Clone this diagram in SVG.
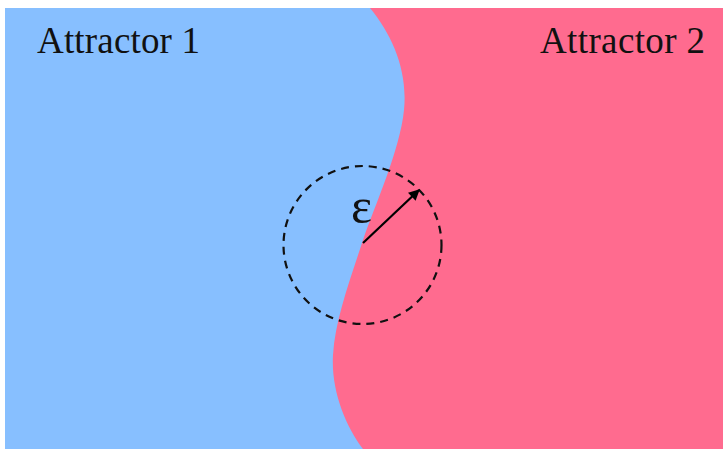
<svg xmlns="http://www.w3.org/2000/svg" width="723" height="449" viewBox="0 0 723 449">
<defs>
<style>
.lbl{font-family:"Liberation Serif","DejaVu Serif",serif;font-size:37px;fill:#111}
</style>
<marker id="ah" viewBox="0 0 10 10" refX="9" refY="5" markerWidth="6" markerHeight="5" orient="auto" markerUnits="strokeWidth">
<path d="M0,0 L10,5 L0,10 z" fill="#000"/>
</marker>
</defs>
<rect width="723" height="449" fill="#fff"/>
<g id="attractor1">
<rect x="5" y="8" width="718" height="441" fill="#87BFFF"/>
<text class="lbl" x="37" y="53" textLength="163">Attractor 1</text>
</g>
<g id="attractor2">
<path d="M370,8 C392,35 408,70 404,110 C400,150 375,205 363,240 C350,280 335,320 333,355 C331,390 345,425 363,449 L723,449 L723,8 Z" fill="#FF6B8F"/>
<text class="lbl" x="540" y="53" textLength="165">Attractor 2</text>
</g>
<g id="neighbourhood">
<circle cx="362.5" cy="245" r="79" fill="none" stroke="#111" stroke-width="2.2" stroke-dasharray="8 6"/>
<text x="351" y="223" font-family="Liberation Serif, DejaVu Serif, serif" font-size="50" fill="#111">ε</text>
</g>
<g id="connectors">
<line x1="363" y1="243" x2="419" y2="190" stroke="#000" stroke-width="2.2" marker-end="url(#ah)"/>
</g>
</svg>
